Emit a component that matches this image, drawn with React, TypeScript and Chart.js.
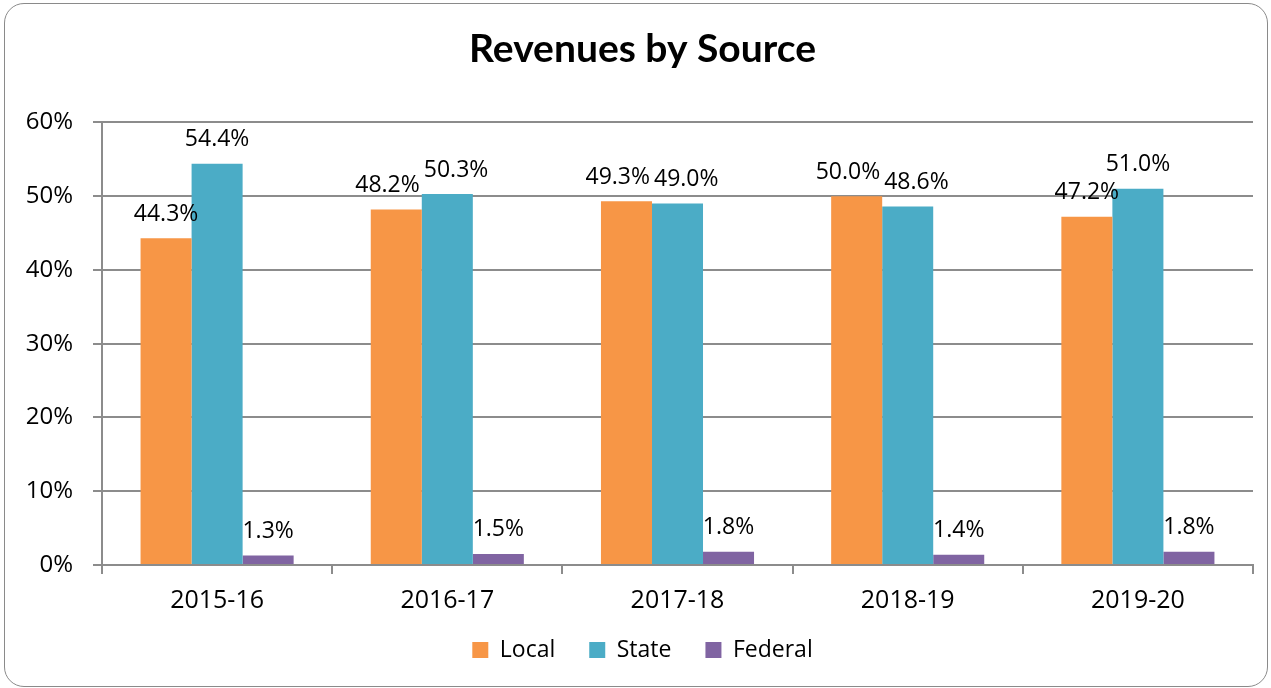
import React, { useEffect, useRef } from "react";
import { Chart, registerables } from "chart.js";

Chart.register(...registerables);

const categories = ["2015-16", "2016-17", "2017-18", "2018-19", "2019-20"];
const localValues = [44.3, 48.2, 49.3, 50.0, 47.2];
const stateValues = [54.4, 50.3, 49.0, 48.6, 51.0];
const federalValues = [1.3, 1.5, 1.8, 1.4, 1.8];
const seriesNames = ["Local", "State", "Federal"];
const seriesColors = ["#F79646", "#4BACC6", "#8064A2"];
const yMin = 0;
const yMax = 60;
const yStep = 10;

const BODY_FONT = '"Open Sans", "Noto Sans", sans-serif';
const GRID = "#8c8c8c";

const barLabelPlugin = {
  id: "barLabels",
  afterDatasetsDraw(chart: any) {
    const ctx = chart.ctx;
    ctx.save();
    ctx.font = `23px ${BODY_FONT}`;
    ctx.fillStyle = "#000";
    ctx.textAlign = "center";
    ctx.textBaseline = "middle";
    const n = chart.data.labels.length;
    for (let i = 0; i < n; i++) {
      const items: any[] = [];
      chart.data.datasets.forEach((ds: any, di: number) => {
        const meta = chart.getDatasetMeta(di);
        const el = meta.data[i];
        if (!el) return;
        const text = Number(ds.data[i]).toFixed(1) + "%";
        const w = ctx.measureText(text).width;
        items.push({ text, x: el.x, y: el.y - 24, w });
      });
      for (let k = 0; k < items.length - 1; k++) {
        const a = items[k];
        const b = items[k + 1];
        if (Math.abs(a.y - b.y) < 26) {
          const overlap = a.x + a.w / 2 + 4 - (b.x - b.w / 2);
          if (overlap > 0) {
            a.x -= overlap / 2;
            b.x += overlap / 2;
          }
        }
      }
      items.forEach((it) => ctx.fillText(it.text, it.x, it.y));
    }
    ctx.restore();
  },
};

export default function App() {
  const canvasRef = useRef<HTMLCanvasElement | null>(null);

  useEffect(() => {
    if (!canvasRef.current) return;
    const values = [localValues, stateValues, federalValues];
    const chart = new Chart(canvasRef.current, {
      type: "bar",
      data: {
        labels: categories,
        datasets: values.map((v, i) => ({
          label: seriesNames[i],
          data: v,
          backgroundColor: seriesColors[i],
          borderWidth: 0,
          categoryPercentage: 0.665,
          barPercentage: 1,
        })),
      },
      options: {
        responsive: false,
        animation: false,
        layout: { padding: { left: 32, right: 18, top: 0, bottom: 16.5 } },
        plugins: {
          title: {
            display: true,
            text: "Revenues by Source",
            color: "#000",
            font: { family: "Lato, sans-serif", weight: "bold", size: 39 },
            padding: { top: 25.8, bottom: 49.8 },
          },
          legend: {
            position: "bottom",
            labels: {
              boxWidth: 16,
              boxHeight: 16,
              padding: 34,
              color: "#000",
              font: { family: BODY_FONT, size: 23 },
            },
          },
          tooltip: { enabled: false },
        },
        scales: {
          x: {
            grid: {
              drawOnChartArea: false,
              drawTicks: true,
              tickLength: 9,
              color: GRID,
              lineWidth: 2,
              offset: true,
            },
            border: { color: GRID, width: 2 },
            ticks: {
              color: "#000",
              font: { family: BODY_FONT, size: 25 },
              padding: 12,
            },
            afterFit(scale: any) {
              scale.height = 39.5;
              scale._computeLabelArea = () => undefined;
            },
          },
          y: {
            min: yMin,
            max: yMax,
            ticks: {
              stepSize: yStep,
              color: "#000",
              font: { family: BODY_FONT, size: 24 },
              padding: 20,
              callback: (v: any) => v + "%",
            },
            grid: { color: GRID, lineWidth: 2, tickLength: 9 },
            border: { color: GRID, width: 2 },
            afterFit(scale: any) {
              scale.width = 70;
              scale._computeLabelArea = () => undefined;
            },
          },
        },
      } as any,
      plugins: [barLabelPlugin],
    });
    return () => chart.destroy();
  }, []);

  return (
    <div
      style={{
        position: "fixed",
        left: 0,
        top: 0,
        width: 1271,
        height: 688,
        background: "#fff",
      }}
    >
      <canvas
        ref={canvasRef}
        width={1271}
        height={688}
        style={{ position: "absolute", left: 0, top: 0, width: 1271, height: 688 }}
      />
      <div
        style={{
          position: "absolute",
          left: 4,
          top: 3,
          width: 1264,
          height: 684,
          boxSizing: "border-box",
          border: "1.5px solid #8a8a8a",
          borderRadius: 20,
          pointerEvents: "none",
        }}
      />
    </div>
  );
}
